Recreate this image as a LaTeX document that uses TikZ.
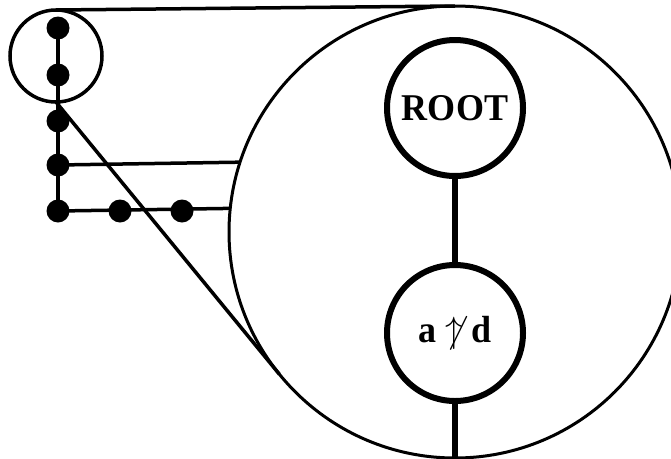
\documentclass[tikz,border=0pt]{standalone}
\usepackage{fontspec}
\setmainfont{Liberation Serif}
\begin{document}
\begin{tikzpicture}[x=1pt,y=-1pt,
  thinline/.style={line width=3.5pt},
  thickline/.style={line width=6pt},
  dot/.style={circle,fill=black,inner sep=0pt,minimum size=23pt,outer sep=0pt},
  ring/.style={circle,draw,line width=3.5pt,inner sep=0pt,outer sep=0pt},
  treenode/.style={circle,draw,line width=6pt,inner sep=0pt,outer sep=0pt,minimum size=136pt,
    font=\bfseries\fontsize{36}{40}\selectfont}]
\useasboundingbox (0,0) rectangle (671,458);
\clip (0,0) rectangle (671,458);
% zoom lens and enlarged view
\node[ring,minimum size=92pt] (lens) at (56,56) {};
\node[ring,line width=3pt,minimum size=452pt] (big) at (455,232) {};
\draw[thinline] (lens.90.6) -- (big.90.6);
\draw[thinline] (lens.south) -- (big.219.2);
% small tree
\node[dot] (d1) at (58,28) {};
\node[dot] (d2) at (58,75) {};
\node[dot] (d3) at (58,121) {};
\node[dot] (d4) at (58,165) {};
\node[dot] (d5) at (58,211) {};
\node[dot] (d6) at (120,211) {};
\node[dot] (d7) at (182,211) {};
\draw[thinline] (d1.center) -- (d5.center);
\draw[thinline] (d4.center) -- (big.162.75);
\draw[thinline] (d5.center) -- (big.174.67);
% enlarged nodes
\node[treenode] (root) at (455,108) {\scalebox{1}[1.05]{ROOT}};
\node[treenode] (low) at (455,333) {\scalebox{1}[1.05]{a \scalebox{1.4}{$\not\uparrow$} d}};
\coordinate (bot) at (455,470);
\draw[thickline] (root) -- (low);
\draw[thickline] (low) -- (bot);
\end{tikzpicture}
\end{document}
